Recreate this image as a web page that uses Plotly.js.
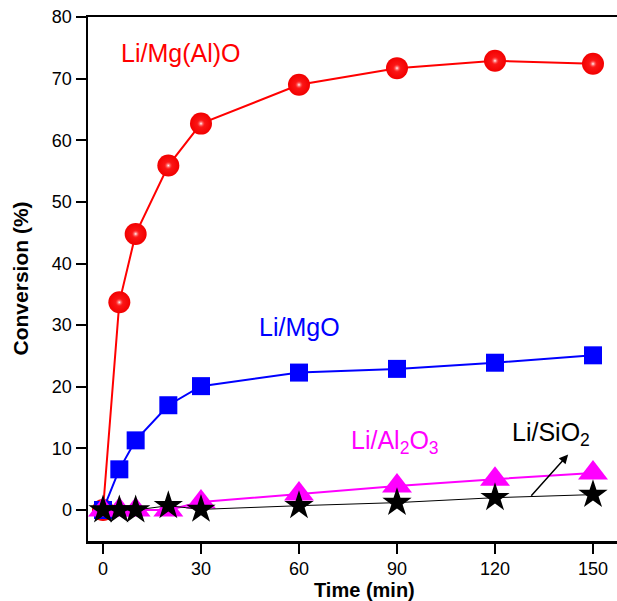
<!DOCTYPE html>
<html>
<head>
<meta charset="utf-8">
<script src="https://cdn.plot.ly/plotly-3.0.1.min.js"></script>
<style>html,body{margin:0;padding:0;background:#fff;}#chart{width:617px;height:601px;}</style>
</head>
<body>
<div id="chart"></div>
<script>
var time = [0, 5, 10, 20, 30, 60, 90, 120, 150];
var liMgAlO = [0, 33.7, 44.8, 55.9, 62.7, 69.0, 71.7, 72.9, 72.4];
var liMgO = [0, 6.6, 11.3, 17.0, 20.1, 22.3, 22.9, 23.9, 25.1];
var liAl2O3 = [0, 0, 0, 0, 1.3, 2.6, 3.9, 5.0, 6.0];
var timeSiO2 = [0, 5, 10, 20, 30, 60, 90, 120, 150];
var liSiO2 = [0, 0, 0, 0.7, 0.1, 0.7, 1.2, 2.0, 2.5];
var xTicks = [0, 30, 60, 90, 120, 150];
var yTicks = [0, 10, 20, 30, 40, 50, 60, 70, 80];

var FONT = 'Arial, "Liberation Sans", sans-serif';

var traces = [
  {x: time, y: liMgAlO, mode: 'lines+markers', name: 'Li/Mg(Al)O',
   line: {color: '#ff0000', width: 2},
   marker: {symbol: 'circle', size: 22, color: '#f20000', line: {width: 0},
            gradient: {type: 'radial', color: '#ff2020'}}},
  {x: time, y: liMgAlO, mode: 'markers', name: 'highlight', hoverinfo: 'skip',
   marker: {symbol: 'circle', size: 9, color: 'rgba(255,0,0,0)', line: {width: 0},
            gradient: {type: 'radial', color: '#ffffff'}}},
  {x: time, y: liMgO, mode: 'lines+markers', name: 'Li/MgO',
   line: {color: '#0000ff', width: 2},
   marker: {symbol: 'square', size: 18, color: '#0000ff', line: {width: 0}}},
  {x: time, y: liAl2O3, mode: 'lines+markers', name: 'Li/Al2O3',
   line: {color: '#ff00ff', width: 2},
   marker: {symbol: 'triangle-up', size: 26, color: '#ff00ff', line: {width: 0}}},
  {x: timeSiO2, y: liSiO2, mode: 'lines+markers', name: 'Li/SiO2',
   line: {color: '#000000', width: 1},
   marker: {symbol: 'star', size: 22, color: '#000000', line: {width: 0}}}
];

var layout = {
  width: 617, height: 601,
  margin: {l: 88, r: 0, t: 17, b: 60},
  paper_bgcolor: '#ffffff', plot_bgcolor: '#ffffff',
  showlegend: false,
  font: {family: FONT, color: '#000000', size: 18},
  xaxis: {
    range: [-4.59, 157.35], tickvals: xTicks, ticktext: xTicks.map(String),
    showgrid: false, zeroline: false,
    showline: true, linecolor: '#000000', linewidth: 2.5, mirror: true,
    ticks: 'outside', ticklen: 10, tickwidth: 2, tickcolor: '#000000',
    tickfont: {family: FONT, size: 18, color: '#000000'}
  },
  yaxis: {
    range: [-5.03, 80], tickvals: yTicks, ticktext: yTicks.map(String),
    showgrid: false, zeroline: false,
    showline: true, linecolor: '#000000', linewidth: 2.5, mirror: false,
    ticks: 'outside', ticklen: 10, tickwidth: 2, tickcolor: '#000000',
    tickfont: {family: FONT, size: 18, color: '#000000'}
  },
  annotations: [
    {xref: 'paper', yref: 'paper', x: 0.5227, y: -0.0935, xanchor: 'center', yanchor: 'middle',
     text: '<b>Time (min)</b>', showarrow: false, font: {family: FONT, size: 20, color: '#000000'}},
    {xref: 'paper', yref: 'paper', x: -0.1267, y: 0.501, xanchor: 'center', yanchor: 'middle',
     textangle: -90, text: '<b>Conversion (%)</b>', showarrow: false,
     font: {family: FONT, size: 21, color: '#000000'}},
    {xref: 'x', yref: 'y', x: 23.7, y: 74.2, xanchor: 'center', yanchor: 'middle',
     text: 'Li/Mg(Al)O', showarrow: false, font: {family: FONT, size: 25, color: '#ff0000'}},
    {xref: 'x', yref: 'y', x: 60.1, y: 29.7, xanchor: 'center', yanchor: 'middle',
     text: 'Li/MgO', showarrow: false, font: {family: FONT, size: 25, color: '#0000ff'}},
    {xref: 'x', yref: 'y', x: 75.3, y: 11.1, xanchor: 'left', yanchor: 'middle',
     text: 'Li/Al<sub>2</sub>O<sub>3</sub>', showarrow: false, font: {family: FONT, size: 25, color: '#ff00ff'}},
    {xref: 'x', yref: 'y', x: 124.6, y: 12.3, xanchor: 'left', yanchor: 'middle',
     text: 'Li/SiO<sub>2</sub>', showarrow: false, font: {family: FONT, size: 25, color: '#000000'}},
    {xref: 'x', yref: 'y', axref: 'x', ayref: 'y', x: 142.4, y: 9.0, ax: 130.7, ay: 2.06,
     text: '', showarrow: true, arrowhead: 2, arrowsize: 1.2, arrowwidth: 1.5, arrowcolor: '#000000'}
  ]
};

Plotly.newPlot('chart', traces, layout, {displayModeBar: false, staticPlot: true});
</script>
</body>
</html>
